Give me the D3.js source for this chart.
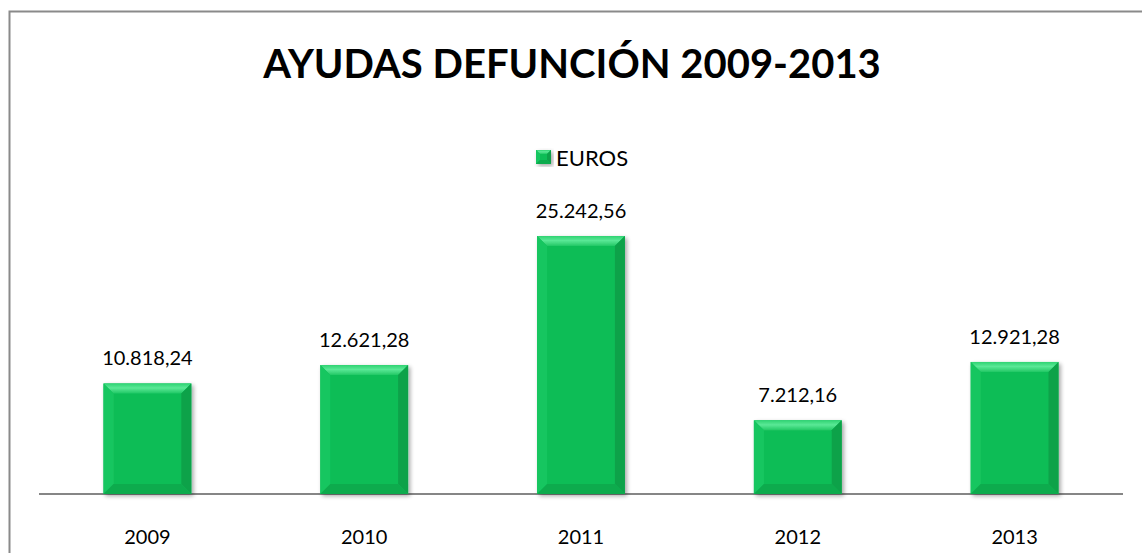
<!DOCTYPE html>
<html><head><meta charset="utf-8">
<script src="https://cdn.jsdelivr.net/npm/d3@7"></script>
<style>
html,body{margin:0;padding:0;background:#fff;}
svg{display:block;}
text{font-family:Lato, "Open Sans", sans-serif;fill:#000;}
</style></head>
<body>
<svg id="chart" width="1142" height="553"></svg>
<script>
const title = "AYUDAS DEFUNCIÓN 2009-2013";
const seriesName = "EUROS";
const categories = ["2009","2010","2011","2012","2013"];
const values = [10818.24, 12621.28, 25242.56, 7212.16, 12921.28];
const valueLabels = ["10.818,24","12.621,28","25.242,56","7.212,16","12.921,28"];

const svg = d3.select("#chart");
const W = 1142, H = 553;
const plot = {left: 39, right: 1123, top: 187.4, bottom: 494};

// border
svg.append("path").attr("d", `M9.5,${H} L9.5,11.5 L${W},11.5`)
  .attr("fill","none").attr("stroke","#8a8a8a").attr("stroke-width",2);

const defs = svg.append("defs");
const f = defs.append("filter").attr("id","shadow").attr("x","-20%").attr("y","-20%").attr("width","140%").attr("height","140%");
f.append("feGaussianBlur").attr("in","SourceAlpha").attr("stdDeviation",2);
f.append("feOffset").attr("dx",1.5).attr("dy",1.5).attr("result","ob");
f.append("feComponentTransfer").append("feFuncA").attr("type","linear").attr("slope",0.35);
const m = f.append("feMerge"); m.append("feMergeNode"); m.append("feMergeNode").attr("in","SourceGraphic");

const tg = defs.append("linearGradient").attr("id","topg").attr("x1",0).attr("y1",0).attr("x2",0).attr("y2",1);
tg.append("stop").attr("offset","0%").attr("stop-color","#2fd372");
tg.append("stop").attr("offset","45%").attr("stop-color","#5ae896");
tg.append("stop").attr("offset","100%").attr("stop-color","#22c865");

const x = d3.scaleBand().domain(categories).range([plot.left, plot.right]).paddingInner(0.595).paddingOuter(0.2975);
const y = d3.scaleLinear().domain([0, 30000]).range([plot.bottom, plot.top]);

// title
svg.append("text").attr("x", 572).attr("y", 78).attr("text-anchor","middle")
  .style("font-family","Lato, sans-serif").style("font-weight","bold").style("font-size","40px")
  .text(title);

// legend
const lg = svg.append("g").attr("transform","translate(536,150)");
drawBevel(lg, 0, 0, 15, 14, 4);
lg.append("text").attr("x", 20).attr("y", 15.5).style("font-size","22px").text(seriesName);

// axis line
svg.append("line").attr("x1", plot.left).attr("x2", plot.right).attr("y1", plot.bottom).attr("y2", plot.bottom)
  .attr("stroke","#868686").attr("stroke-width",2);

function drawBevel(g, x0, y0, w, h, b) {
  const gg = g.append("g").attr("filter","url(#shadow)");
  gg.append("rect").attr("x",x0).attr("y",y0).attr("width",w).attr("height",h).attr("fill","#0dbd57");
  const x1 = x0 + w, y1 = y0 + h;
  gg.append("polygon").attr("points",`${x0},${y0} ${x1},${y0} ${x1-b},${y0+b} ${x0+b},${y0+b}`).attr("fill","url(#topg)");
  gg.append("polygon").attr("points",`${x0},${y0} ${x0+b},${y0+b} ${x0+b},${y1-b} ${x0},${y1}`).attr("fill","#18c660");
  gg.append("polygon").attr("points",`${x1},${y0} ${x1-b},${y0+b} ${x1-b},${y1-b} ${x1},${y1}`).attr("fill","#0aa24a");
  gg.append("polygon").attr("points",`${x0},${y1} ${x0+b},${y1-b} ${x1-b},${y1-b} ${x1},${y1}`).attr("fill","#0bab4e");
}

const bars = svg.append("g");
categories.forEach((c, i) => {
  const bx = x(c), bw = x.bandwidth(), by = y(values[i]), bh = plot.bottom - by;
  drawBevel(bars, bx, by, bw, bh, 10);
  svg.append("text").attr("x", bx + bw/2).attr("y", by - 18).attr("text-anchor","middle")
    .style("font-size","20px").text(valueLabels[i]);
  svg.append("text").attr("x", bx + bw/2).attr("y", 544).attr("text-anchor","middle")
    .style("font-size","20px").text(c);
});
</script>
</body></html>
